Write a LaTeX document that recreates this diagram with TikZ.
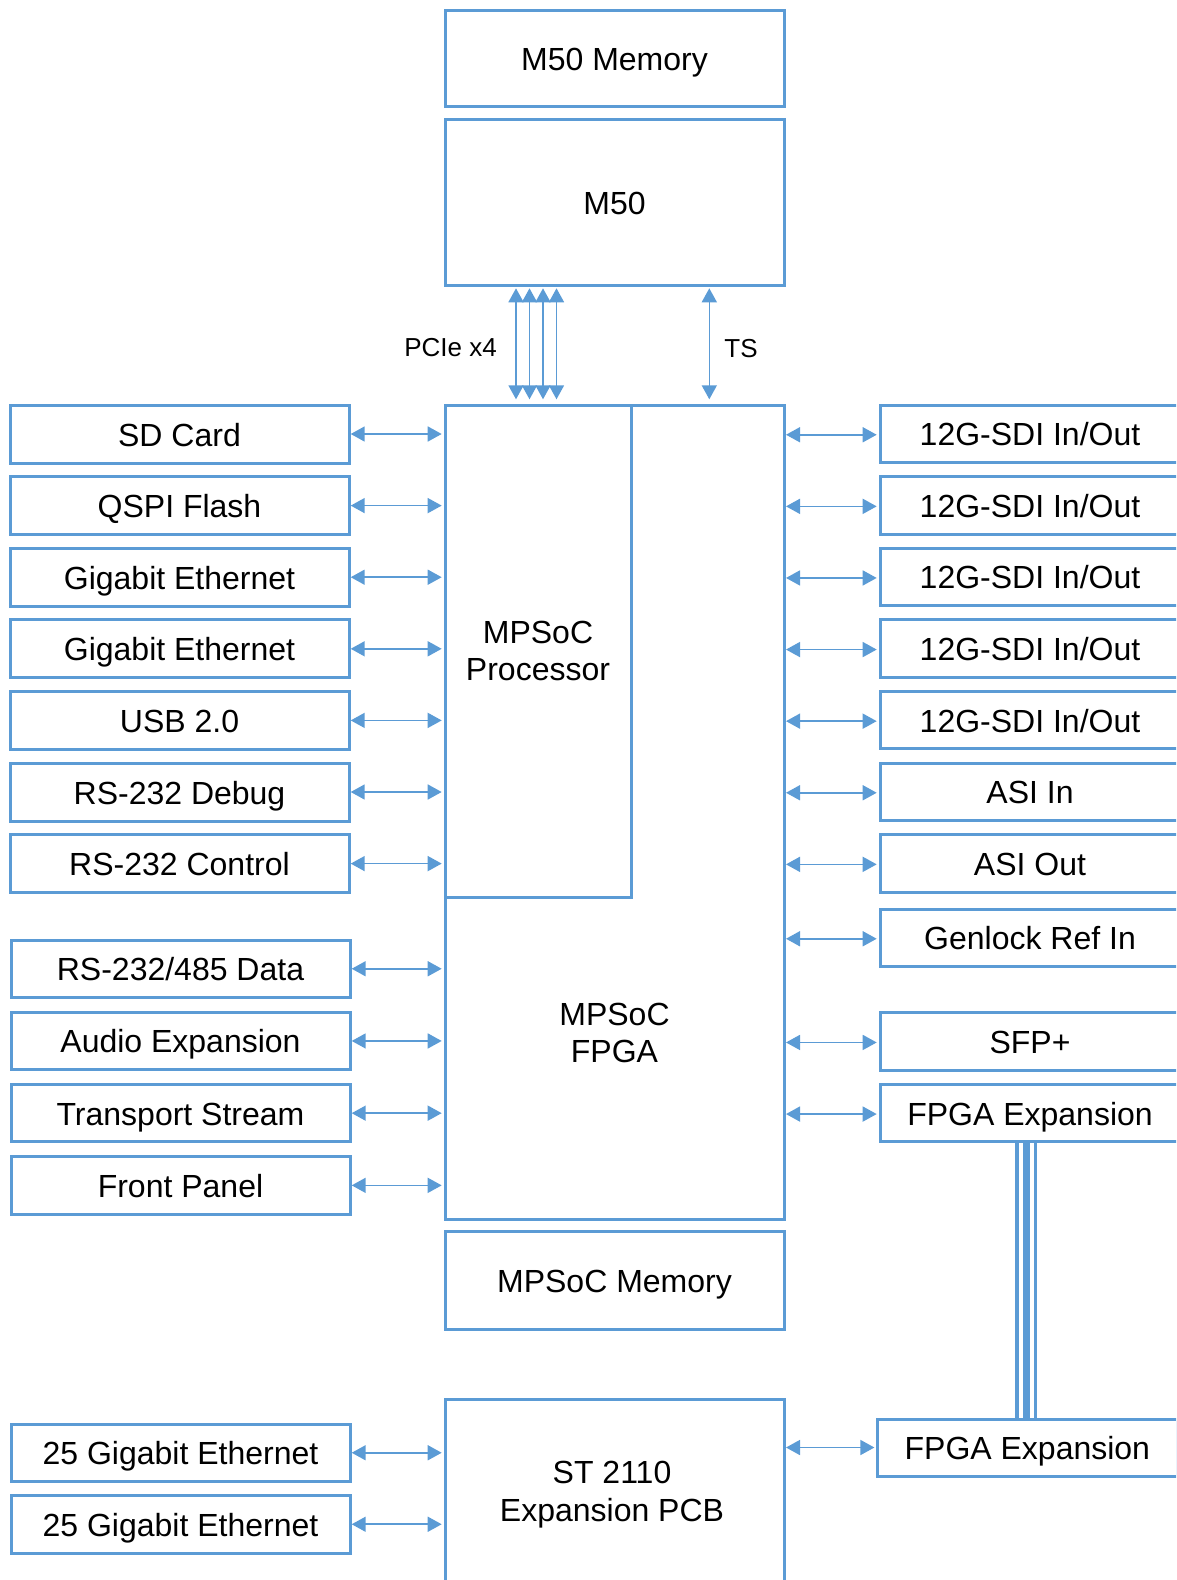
\documentclass[tikz,border=0pt]{standalone}
\usepackage{fontspec}
\setmainfont{Liberation Sans}
\usetikzlibrary{arrows.meta}
\definecolor{linkblue}{RGB}{91,155,213}
\begin{document}
\begin{tikzpicture}[x=1pt,y=-1pt,
  blk/.style={draw=linkblue, line width=3pt, inner sep=0pt, outer sep=0pt,
    font=\fontsize{32}{37.5}\selectfont, anchor=north west},
  caps/.style={text height=24pt, text depth=0pt},
  lbl/.style={font=\fontsize{32}{37.5}\selectfont, align=center, inner sep=0pt},
  busnote/.style={font=\fontsize{26}{30}\selectfont, inner sep=0pt, text height=18.6pt, text depth=0pt},
  link/.style={draw=linkblue, line width=1.6pt, {Triangle[length=14pt,width=15pt]}-{Triangle[length=14pt,width=15pt]}},
  lane/.style={draw=linkblue, line width=3.5pt}
]
\useasboundingbox (0,0) rectangle (1176,1580);
\clip (0,0) rectangle (1176,1580);

% central column
\node[blk, caps, minimum width=339pt, minimum height=96.7pt] (m50mem) at (445,10) {M50 Memory};
\node[blk, caps, minimum width=339pt, minimum height=166pt] (m50) at (445,119) {M50};
\node[blk, minimum width=339pt, minimum height=814pt] (fpga) at (445,405) {};
\node[blk, align=center, minimum width=186pt, minimum height=492pt] (proc) at (445,405) {MPSoC\\Processor};
\node[lbl] (fpgalabel) at (614.5,1033) {MPSoC\\FPGA};
\node[blk, caps, minimum width=339pt, minimum height=97.8pt] (socmem) at (445,1231.4) {MPSoC Memory};
\node[blk, minimum width=339pt, minimum height=260pt] (st) at (445,1399) {};
\node[lbl] (stlabel) at (612,1494.5) {ST 2110\\Expansion PCB};

% left-hand interfaces
\foreach \t [count=\i] in {SD Card, QSPI Flash, Gigabit Ethernet, Gigabit Ethernet, USB 2.0, RS-232 Debug, RS-232 Control}
  \node[blk, caps, minimum width=339pt, minimum height=58pt] (L\i) at (10,{405+71.6*(\i-1)}) {\t};
\foreach \yy/\t [count=\i from 8] in {940/{RS-232/485 Data}, 1012.2/{Audio Expansion}, 1084.4/{Transport Stream}, 1156.6/{Front Panel}, 1424/{25 Gigabit Ethernet}, 1495.5/{25 Gigabit Ethernet}}
  \node[blk, caps, minimum width=339pt, minimum height=57.5pt] (L\i) at (11,\yy) {\t};

% right-hand interfaces
\foreach \yy/\t [count=\i] in {405/{12G-SDI In/Out}, 476.6/{12G-SDI In/Out}, 548.2/{12G-SDI In/Out}, 619.8/{12G-SDI In/Out}, 691.4/{12G-SDI In/Out}, 763/{ASI In}, 834.6/{ASI Out}, 909/{Genlock Ref In}, 1012.7/{SFP+}, 1084.3/{FPGA Expansion}}
  \node[blk, caps, minimum width=300pt, minimum height=57.5pt] (R\i) at (880,\yy) {\t};
\node[blk, caps, minimum width=299.3pt, minimum height=57pt] (fpgaexp2) at (877.7,1419) {FPGA Expansion};

% bus arrows between M50 and MPSoC
\foreach \dx in {71,84.5,98,111.5}
  \draw[link, shorten <=3.3pt, shorten >=5.7pt] ([xshift=\dx pt]m50.south west) -- ([xshift=\dx pt]fpga.north west);
\draw[link, shorten <=3.3pt, shorten >=5.7pt] ([xshift=264.3pt]m50.south west) -- ([xshift=264.3pt]fpga.north west);
\node[busnote] (pcie) at (450.5,347) {PCIe x4};
\node[busnote] (ts) at (741,348) {TS};

% left links
\foreach \i in {1,...,11}
  \draw[link, shorten <=1.7pt, shorten >=3.3pt] (L\i.east) -- (L\i.east -| fpga.west);
\foreach \i in {12,13}
  \draw[link, shorten <=1.7pt, shorten >=3.3pt] (L\i.east) -- (L\i.east -| st.west);

% right links
\foreach \i in {1,...,10}
  \draw[link, shorten <=2pt, shorten >=3.3pt] ([yshift=-1pt]R\i.west -| fpga.east) -- ([yshift=-1pt]R\i.west);
\draw[link, shorten <=2pt, shorten >=3.3pt] (fpgaexp2.west -| st.east) -- (fpgaexp2.west);

% expansion connector lanes
\foreach \dx [count=\k] in {137,144.5,148,155.5} {
  \path ([xshift=\dx pt]R10.south west) coordinate (lane\k);
  \draw[lane] (lane\k) -- (lane\k |- fpgaexp2.north);
}
\end{tikzpicture}
\end{document}
